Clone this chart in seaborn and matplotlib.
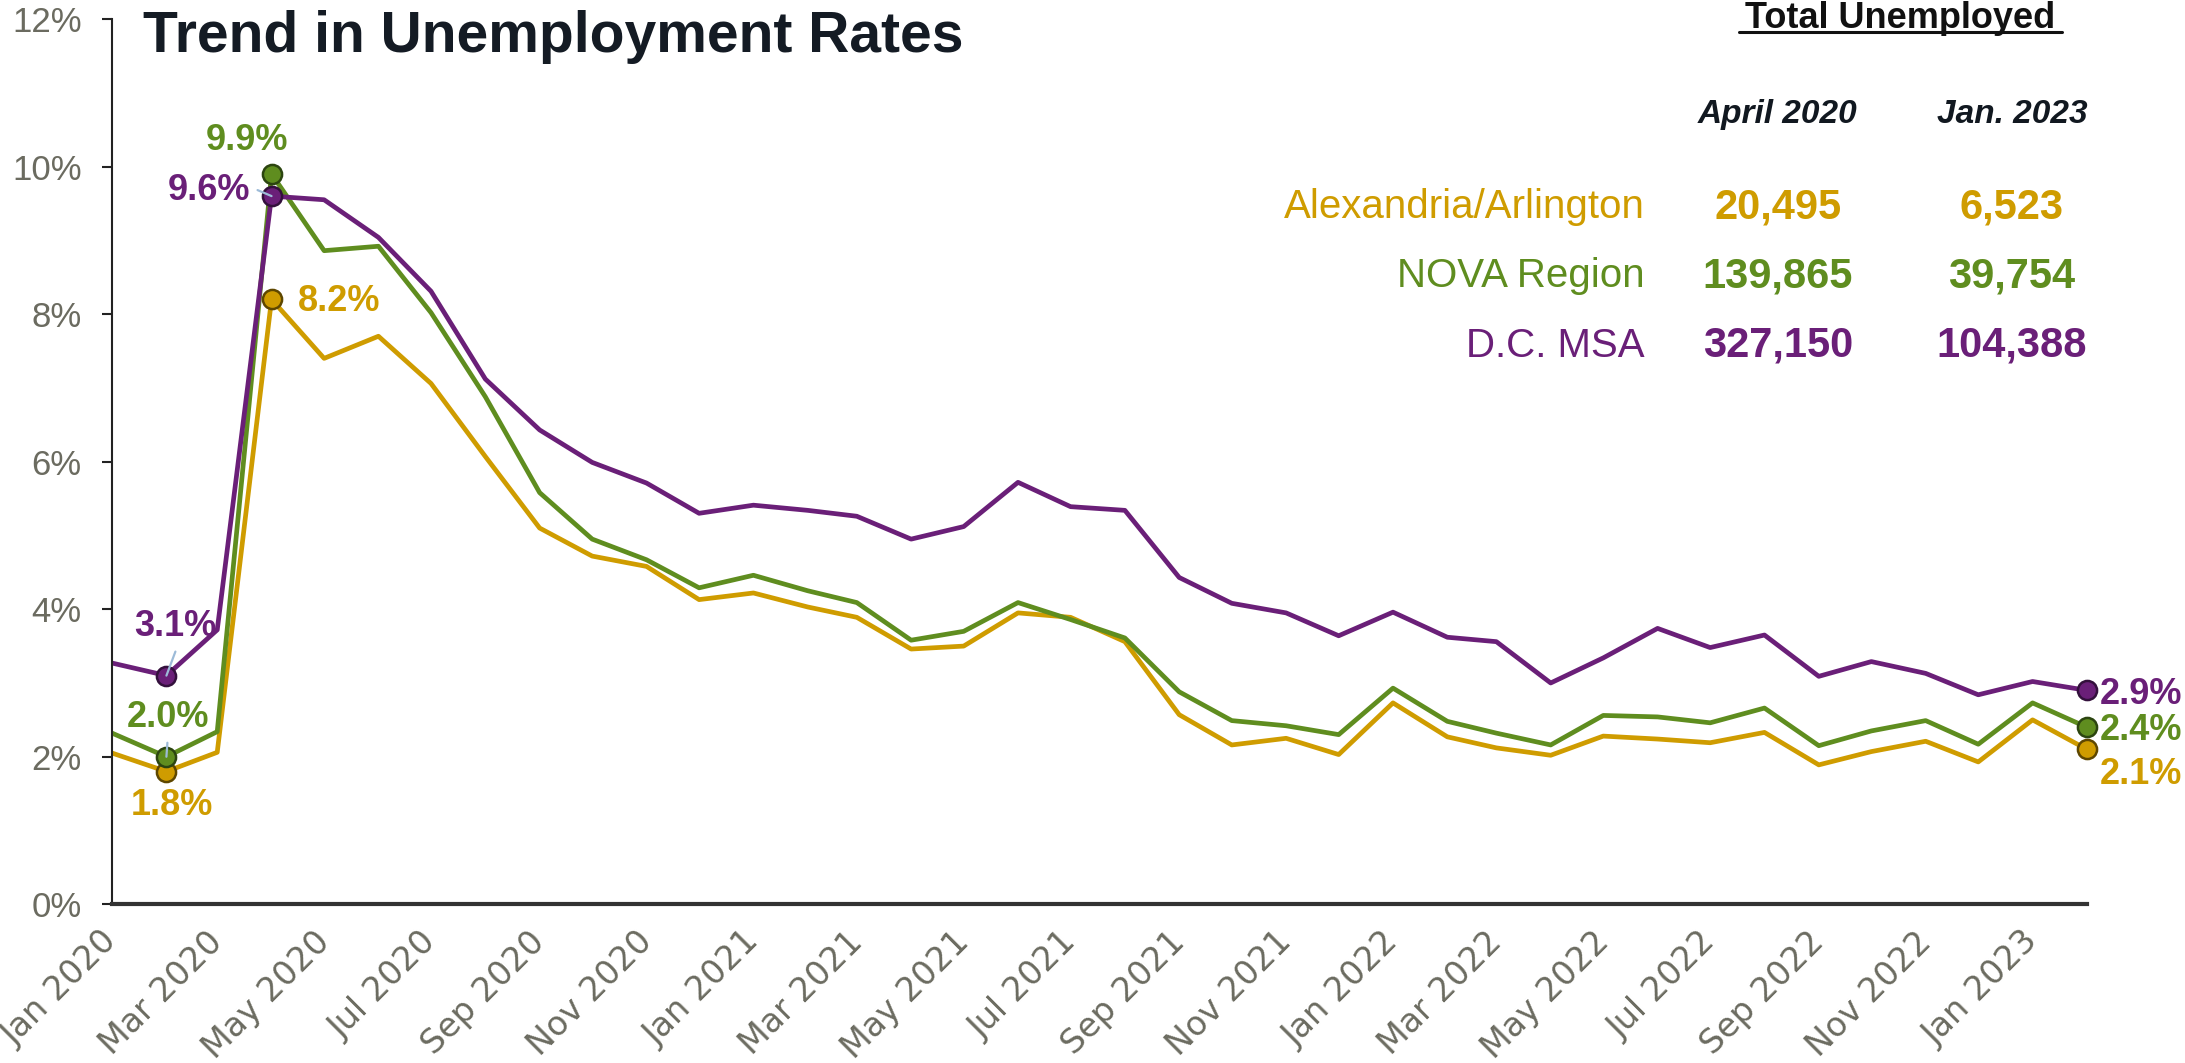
import pandas as pd
import numpy as np
import matplotlib.pyplot as plt
import matplotlib.transforms as mtransforms
from matplotlib.lines import Line2D
import seaborn as sns

# monthly unemployment rates (%), Jan 2020 .. Feb 2023
meses = pd.date_range('2020-01-01', periods=38, freq='MS')

alex_arl = [2.05, 1.8, 2.06, 8.2, 7.40, 7.70, 7.06, 6.07, 5.10, 4.72,
            4.58, 4.13, 4.22, 4.03, 3.89, 3.46, 3.50, 3.95, 3.89, 3.56,
            2.57, 2.16, 2.25, 2.03, 2.73, 2.27, 2.12, 2.02, 2.28, 2.24,
            2.19, 2.33, 1.89, 2.07, 2.21, 1.93, 2.50, 2.1]
nova = [2.32, 2.0, 2.34, 9.9, 8.86, 8.92, 8.02, 6.88, 5.58, 4.95,
        4.67, 4.29, 4.46, 4.25, 4.09, 3.58, 3.70, 4.09, 3.86, 3.61,
        2.88, 2.49, 2.42, 2.30, 2.93, 2.48, 2.32, 2.16, 2.56, 2.54,
        2.46, 2.66, 2.15, 2.35, 2.49, 2.17, 2.73, 2.4]
dc_msa = [3.27, 3.1, 3.72, 9.6, 9.55, 9.04, 8.31, 7.12, 6.43, 5.99,
          5.71, 5.30, 5.41, 5.34, 5.26, 4.95, 5.12, 5.72, 5.39, 5.34,
          4.43, 4.08, 3.95, 3.64, 3.96, 3.62, 3.56, 3.00, 3.34, 3.74,
          3.48, 3.65, 3.09, 3.29, 3.13, 2.84, 3.02, 2.9]

regioes = ['Alexandria/Arlington', 'NOVA Region', 'D.C. MSA']
cores = ['#CF9C00', '#5F8D1F', '#6A1F78']
bordas = ['#5e4700', '#2c4510', '#33103c']

# tabela "Total Unemployed"
col_tabela = ['April 2020', 'Jan. 2023']
total_abr2020 = ['20,495', '139,865', '327,150']
total_jan2023 = ['6,523', '39,754', '104,388']

# pontos destacados: Feb 2020, Apr 2020, ultimo mes
idx_destaque = [1, 3, 37]

cinza = '#6b6b60'

sns.set_style('white')
plt.rcParams['font.family'] = ['Liberation Sans', 'DejaVu Sans']

dados = pd.DataFrame({
    'mes': np.tile(meses, 3),
    'taxa': alex_arl + nova + dc_msa,
    'regiao': np.repeat(regioes, len(meses)),
})

fig = plt.figure(figsize=(21.85, 10.63), dpi=100)
ax = fig.add_axes([0.0513, 0.1493, 0.9038, 0.8328])

sns.lineplot(data=dados, x='mes', y='taxa', hue='regiao', hue_order=regioes,
             palette=cores, linewidth=3.4, legend=False, ax=ax)

# marcadores
series = [alex_arl, nova, dc_msa]
for serie, cor, borda in zip(series, cores, bordas):
    pts = pd.DataFrame({'mes': meses[idx_destaque],
                        'taxa': [serie[i] for i in idx_destaque]})
    sns.scatterplot(data=pts, x='mes', y='taxa', color=cor, edgecolor=borda,
                    linewidth=1.8, s=190, zorder=5, ax=ax, clip_on=False)

# rotulos dos pontos (offset em pixels: dx, dy, ha)
offsets = {
    0: [(6, -34, 'center'), (26, -2, 'left'), (13, -25, 'left')],
    1: [(2, 39, 'center'), (-25, 33, 'center'), (13, -3, 'left')],
    2: [(9, 49, 'center'), (-21, 6, 'right'), (13, -4, 'left')],
}
for k, (serie, cor) in enumerate(zip(series, cores)):
    for j, i in enumerate(idx_destaque):
        dx, dy, ha = offsets[k][j]
        ax.annotate('{:.1f}%'.format(serie[i]), xy=(meses[i], serie[i]),
                    xytext=(dx, dy), textcoords='offset pixels', ha=ha,
                    va='center', color=cor, fontsize=26, fontweight='bold',
                    zorder=6)

# linhas-guia azuis
guias = [(dc_msa, 1, (9, 24)), (nova, 1, (1, 14)), (dc_msa, 3, (-14, 6))]
for serie, i, (dx, dy) in guias:
    ax.annotate('', xy=(meses[i], serie[i]), xytext=(dx, dy),
                textcoords='offset pixels', zorder=7,
                arrowprops=dict(arrowstyle='-', color='#9dbbd8', lw=1.6,
                                shrinkA=0, shrinkB=0))

# eixos
ax.set_xlim(meses[0], meses[-1])
ax.set_ylim(0, 12)
ax.set_yticks(range(0, 13, 2))
ax.set_yticklabels(['{}%'.format(v) for v in range(0, 13, 2)])
ax.set_xticks(meses[::2])
ax.set_xticklabels([m.strftime('%b %Y') for m in meses[::2]], rotation=45,
                   ha='right', va='top', family='DejaVu Sans')
ax.set_xlabel('')
ax.set_ylabel('')
ax.tick_params(axis='y', length=7, width=1.5, color='#222222', pad=15,
               labelsize=25, labelcolor=cinza, left=True)
ax.tick_params(axis='x', length=0, pad=15, labelsize=24, labelcolor=cinza)
desloc = mtransforms.ScaledTranslation(0.12, 0, fig.dpi_scale_trans)
for lab in ax.get_xticklabels():
    lab.set_transform(lab.get_transform() + desloc)

sns.despine(ax=ax)
ax.spines['left'].set_linewidth(1.5)
ax.spines['left'].set_color('#222222')
ax.spines['bottom'].set_linewidth(3)
ax.spines['bottom'].set_color('#333333')

# titulo
fig.text(0.0655, 0.951, 'Trend in Unemployment Rates', fontsize=41,
         fontweight='bold', color='#141b24', va='baseline')

# tabela
fig.text(0.8696, 0.974, 'Total Unemployed', fontsize=26, fontweight='bold',
         color='#111111', ha='center', va='baseline')
fig.add_artist(Line2D([0.7959, 0.9437], [0.9695, 0.9695], color='#111111',
                      lw=2.2, transform=fig.transFigure))
col_x = [0.8137, 0.9208]
for cx, txt in zip(col_x, col_tabela):
    fig.text(cx, 0.8845, txt, fontsize=24, fontweight='bold', style='italic',
             color='#111820', ha='center', va='baseline')
linhas_y = [0.7949, 0.7300, 0.6642]
for reg, v1, v2, cor, ly in zip(regioes, total_abr2020, total_jan2023,
                                cores, linhas_y):
    fig.text(0.7529, ly, reg, fontsize=29, color=cor, ha='right',
             va='baseline')
    fig.text(col_x[0], ly, v1, fontsize=30, fontweight='bold', color=cor,
             ha='center', va='baseline')
    fig.text(col_x[1], ly, v2, fontsize=30, fontweight='bold', color=cor,
             ha='center', va='baseline')

fig.savefig('out.png', dpi=100)
